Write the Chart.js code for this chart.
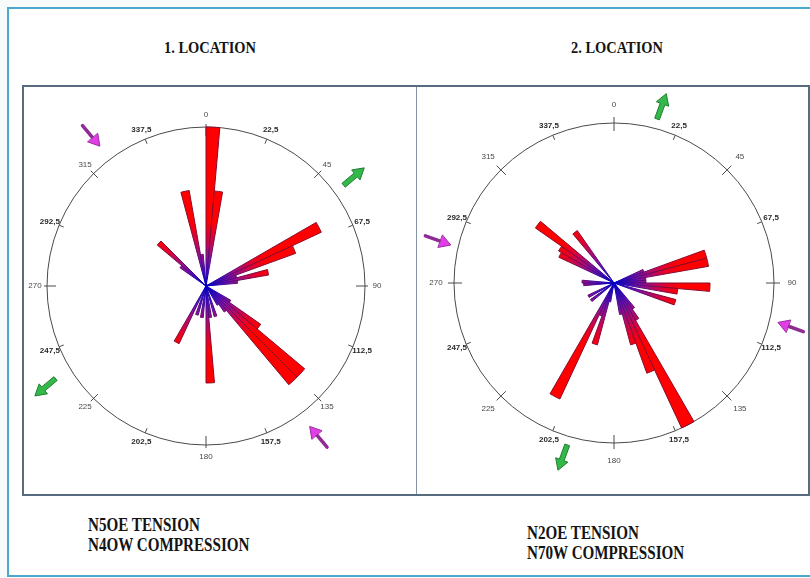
<!DOCTYPE html>
<html>
<head>
<meta charset="utf-8">
<title>Rose diagrams</title>
<script src="https://cdn.jsdelivr.net/npm/chart.js@4.4.1/dist/chart.umd.min.js"></script>
<style>
  html, body { margin: 0; padding: 0; }
  body { width: 810px; height: 578px; position: relative; overflow: hidden; background: #f7fbfc; }
  .frame { position: absolute; left: 7px; top: 7px; width: 830px; height: 566px; border: 2px solid #4ba9cd; background: #fff; }
  .box { position: absolute; left: 22px; top: 85px; width: 784px; height: 407px; border: 2px solid #596c7f; }
  .divider { position: absolute; left: 416px; top: 87px; width: 1px; height: 407px; background: #8595a5; }
  .ttl { position: absolute; font-family: "Liberation Serif", "DejaVu Serif", serif; font-weight: bold; font-size: 17px;
         transform: translate(-50%, -50%) scaleX(0.85); white-space: nowrap; color: #141414; }
  .note { position: absolute; font-family: "Liberation Serif", "DejaVu Serif", serif; font-weight: bold; font-size: 18px;
          line-height: 20px; transform-origin: 0 0; transform: scaleX(0.84); white-space: nowrap; color: #141414; }
  canvas { position: absolute; }
</style>
</head>
<body>
<div class="frame"></div>
<div class="ttl" style="left:210px; top:48px;">1. LOCATION</div>
<div class="ttl" style="left:617px; top:48px;">2. LOCATION</div>
<div class="box"></div>
<div class="divider"></div>
<canvas id="rose1" width="400" height="400" style="left:6px; top:86px;"></canvas>
<canvas id="rose2" width="400" height="400" style="left:414px; top:83px;"></canvas>
<div class="note" style="left:88px; top:515px;">N5OE TENSION<br>N4OW COMPRESSION</div>
<div class="note" style="left:527px; top:523px;">N2OE TENSION<br>N70W COMPRESSION</div>

<script>
// 5-degree azimuth classes, clockwise from north
const binStarts = Array.from({ length: 72 }, (_, i) => i * 5);

// Location 1: fracture strike frequencies (start azimuth of class -> frequency, % of max)
const loc1Azimuth = [0, 5, 60, 65, 70, 75, 80, 120, 125, 130, 135, 140, 145, 160, 170, 175, 185, 195, 205, 305, 310, 345, 350];
const loc1Count   = [100, 60, 80, 60, 20, 40, 20, 18, 42, 81, 81, 20, 14, 20, 20, 61, 20, 19, 40, 20, 40, 61, 20];

// Location 2
const loc2Azimuth = [65, 70, 75, 80, 85, 90, 95, 105, 140, 145, 150, 155, 160, 165, 190, 195, 200, 205, 230, 240, 265, 270, 295, 300, 305, 320];
const loc2Count   = [20, 60, 60, 20, 20, 60, 40, 40, 20, 27, 100, 60, 40, 20, 12, 40, 22, 80, 18, 18, 19, 20, 38, 40, 60, 40];

// Compass ring tick labels
const compassAngles = [0, 22.5, 45, 67.5, 90, 112.5, 135, 157.5, 180, 202.5, 225, 247.5, 270, 292.5, 315, 337.5];
const compassLabels = ['0', '22,5', '45', '67,5', '90', '112,5', '135', '157,5', '180', '202,5', '225', '247,5', '270', '292,5', '315', '337,5'];

// Interpreted stress directions (azimuths)
const loc1Tension = 50;       // N50E
const loc1Compression = 320;  // N40W
const loc2Tension = 20;       // N20E
const loc2Compression = 290;  // N70W

const DEG = Math.PI / 180;

function radialGradient(chart, key, stops) {
  const r = chart.scales && chart.scales.r;
  if (!r || !isFinite(r.xCenter) || !isFinite(r.yCenter) || !(r.drawingArea > 0)) {
    return stops[stops.length - 1][1];
  }
  const sig = r.xCenter + ',' + r.yCenter + ',' + r.drawingArea;
  if (chart[key] && chart[key + 'Sig'] === sig) return chart[key];
  const g = chart.ctx.createRadialGradient(r.xCenter, r.yCenter, 0, r.xCenter, r.yCenter, r.drawingArea);
  stops.forEach(([o, c]) => g.addColorStop(o, c));
  chart[key] = g;
  chart[key + 'Sig'] = sig;
  return g;
}

const fillStops = [
  [0.00, '#0000ff'], [0.06, '#2c00ee'], [0.14, '#7410b4'], [0.22, '#a80c78'],
  [0.32, '#e2002e'], [0.42, '#ff0000'], [1.00, '#ff0000']
];
const edgeStops = [
  [0.00, '#0000c8'], [0.10, '#3a0a9a'], [0.22, '#6a0a60'], [0.35, '#8a0a2c'], [1.00, '#8c0a24']
];

function drawArrow(ctx, x, y, bearing, kind) {
  const dx = Math.sin(bearing * DEG), dy = -Math.cos(bearing * DEG);
  const px = -dy, py = dx;
  const len = 27, headL = 11;
  const shaftW = kind === 'tension' ? 5 : 3.5;
  const headW = 13;
  const tx = x - dx * len / 2, ty = y - dy * len / 2;       // tail
  const hx = x + dx * len / 2, hy = y + dy * len / 2;       // tip
  const bx = hx - dx * headL, by = hy - dy * headL;         // head base
  ctx.save();
  ctx.lineJoin = 'round';
  if (kind === 'tension') {
    ctx.beginPath();
    ctx.moveTo(tx + px * shaftW / 2, ty + py * shaftW / 2);
    ctx.lineTo(bx + px * shaftW / 2, by + py * shaftW / 2);
    ctx.lineTo(bx + px * headW / 2, by + py * headW / 2);
    ctx.lineTo(hx, hy);
    ctx.lineTo(bx - px * headW / 2, by - py * headW / 2);
    ctx.lineTo(bx - px * shaftW / 2, by - py * shaftW / 2);
    ctx.lineTo(tx - px * shaftW / 2, ty - py * shaftW / 2);
    ctx.closePath();
    ctx.fillStyle = '#35b84a';
    ctx.strokeStyle = '#1f7e30';
    ctx.lineWidth = 1;
    ctx.fill();
    ctx.stroke();
  } else {
    ctx.beginPath();
    ctx.moveTo(tx, ty);
    ctx.lineTo(bx + dx * 2, by + dy * 2);
    ctx.strokeStyle = '#8e2c94';
    ctx.lineWidth = shaftW;
    ctx.lineCap = 'round';
    ctx.stroke();
    ctx.beginPath();
    ctx.moveTo(bx + px * headW / 2, by + py * headW / 2);
    ctx.lineTo(hx, hy);
    ctx.lineTo(bx - px * headW / 2, by - py * headW / 2);
    ctx.closePath();
    ctx.fillStyle = '#e23ee6';
    ctx.strokeStyle = '#9a2ca0';
    ctx.lineWidth = 1;
    ctx.fill();
    ctx.stroke();
  }
  ctx.restore();
}

// Compass ring: ticks under the petals, labels and stress arrows on top
const compassRose = {
  id: 'compassRose',
  beforeDatasetsDraw(chart, args, o) {
    const r = chart.scales.r, ctx = chart.ctx;
    const cx = r.xCenter, cy = r.yCenter, R = r.drawingArea;
    ctx.save();
    ctx.strokeStyle = '#4a4a4a';
    ctx.lineWidth = 1;
    compassAngles.forEach((a) => {
      const cardinal = a % 90 === 0;
      const major = a % 45 === 0;
      const rin = R - (cardinal ? o.cardinalIn : major ? o.majorIn : o.minorIn);
      const rout = R + (cardinal ? o.cardinalOut : major ? o.majorOut : 0);
      const s = Math.sin(a * DEG), c = Math.cos(a * DEG);
      ctx.beginPath();
      ctx.moveTo(cx + rin * s, cy - rin * c);
      ctx.lineTo(cx + rout * s, cy - rout * c);
      ctx.stroke();
    });
    ctx.restore();
  },
  afterDatasetsDraw(chart, args, o) {
    const r = chart.scales.r, ctx = chart.ctx;
    const cx = r.xCenter, cy = r.yCenter, R = r.drawingArea;
    ctx.save();
    ctx.textAlign = 'center';
    ctx.textBaseline = 'middle';
    compassAngles.forEach((a, i) => {
      const major = a % 45 === 0;
      const d = R + (major ? o.majorGap : o.minorGap);
      ctx.font = major ? '8px "Liberation Sans", Arial, sans-serif' : 'bold 8px "Liberation Sans", Arial, sans-serif';
      ctx.fillStyle = major ? '#4a4a4a' : '#2a2a2a';
      ctx.fillText(compassLabels[i], cx + d * Math.sin(a * DEG), cy - d * Math.cos(a * DEG));
    });
    ctx.restore();
    o.arrows.forEach((ar) => {
      const x = cx + ar.dist * Math.sin(ar.pos * DEG);
      const y = cy - ar.dist * Math.cos(ar.pos * DEG);
      drawArrow(ctx, x, y, ar.bearing, ar.kind);
    });
  }
};

function makeRose(id, azimuths, counts, pad, ring) {
  const values = binStarts.map((b) => {
    const k = azimuths.indexOf(b);
    return k < 0 ? 0 : counts[k];
  });
  return new Chart(document.getElementById(id), {
    type: 'polarArea',
    data: {
      labels: binStarts.map(String),
      datasets: [{
        data: values,
        backgroundColor: (c) => radialGradient(c.chart, '_petalFill', fillStops),
        borderColor: (c) => radialGradient(c.chart, '_petalEdge', edgeStops),
        borderWidth: (c) => (c.raw > 0 ? 1 : 0)
      }]
    },
    options: {
      responsive: false,
      animation: false,
      events: [],
      layout: { padding: pad },
      scales: {
        r: {
          min: 0,
          max: 100,
          startAngle: 0,
          ticks: { display: false, stepSize: 100 },
          grid: { display: true, circular: true, color: '#4a4a4a', lineWidth: 1 },
          angleLines: { display: false },
          pointLabels: { display: false }
        }
      },
      plugins: {
        legend: { display: false },
        tooltip: { enabled: false },
        compassRose: ring
      }
    },
    plugins: [compassRose]
  });
}

const rose1 = makeRose('rose1', loc1Azimuth, loc1Count, 41, {
  cardinalIn: 9, cardinalOut: 3, majorIn: 6, majorOut: 4, minorIn: 5,
  majorGap: 12, minorGap: 10,
  arrows: [
    { pos: 322.6, dist: 189, bearing: loc1Compression - 180, kind: 'compression' },
    { pos: 143.3, dist: 188, bearing: loc1Compression, kind: 'compression' },
    { pos: 53.5, dist: 184, bearing: loc1Tension, kind: 'tension' },
    { pos: 237.8, dist: 190, bearing: loc1Tension + 180, kind: 'tension' }
  ]
});

const rose2 = makeRose('rose2', loc2Azimuth, loc2Count, 40, {
  cardinalIn: 8, cardinalOut: 6, majorIn: 7, majorOut: 6, minorIn: 5,
  majorGap: 18, minorGap: 10,
  arrows: [
    { pos: 15.1, dist: 183, bearing: loc2Tension, kind: 'tension' },
    { pos: 196.4, dist: 182, bearing: loc2Tension + 180, kind: 'tension' },
    { pos: 283.6, dist: 181, bearing: loc2Compression - 180, kind: 'compression' },
    { pos: 104, dist: 182, bearing: loc2Compression, kind: 'compression' }
  ]
});

// re-resolve the petal gradients now that the radial scales have their final geometry
rose1.update();
rose2.update();
</script>
</body>
</html>
